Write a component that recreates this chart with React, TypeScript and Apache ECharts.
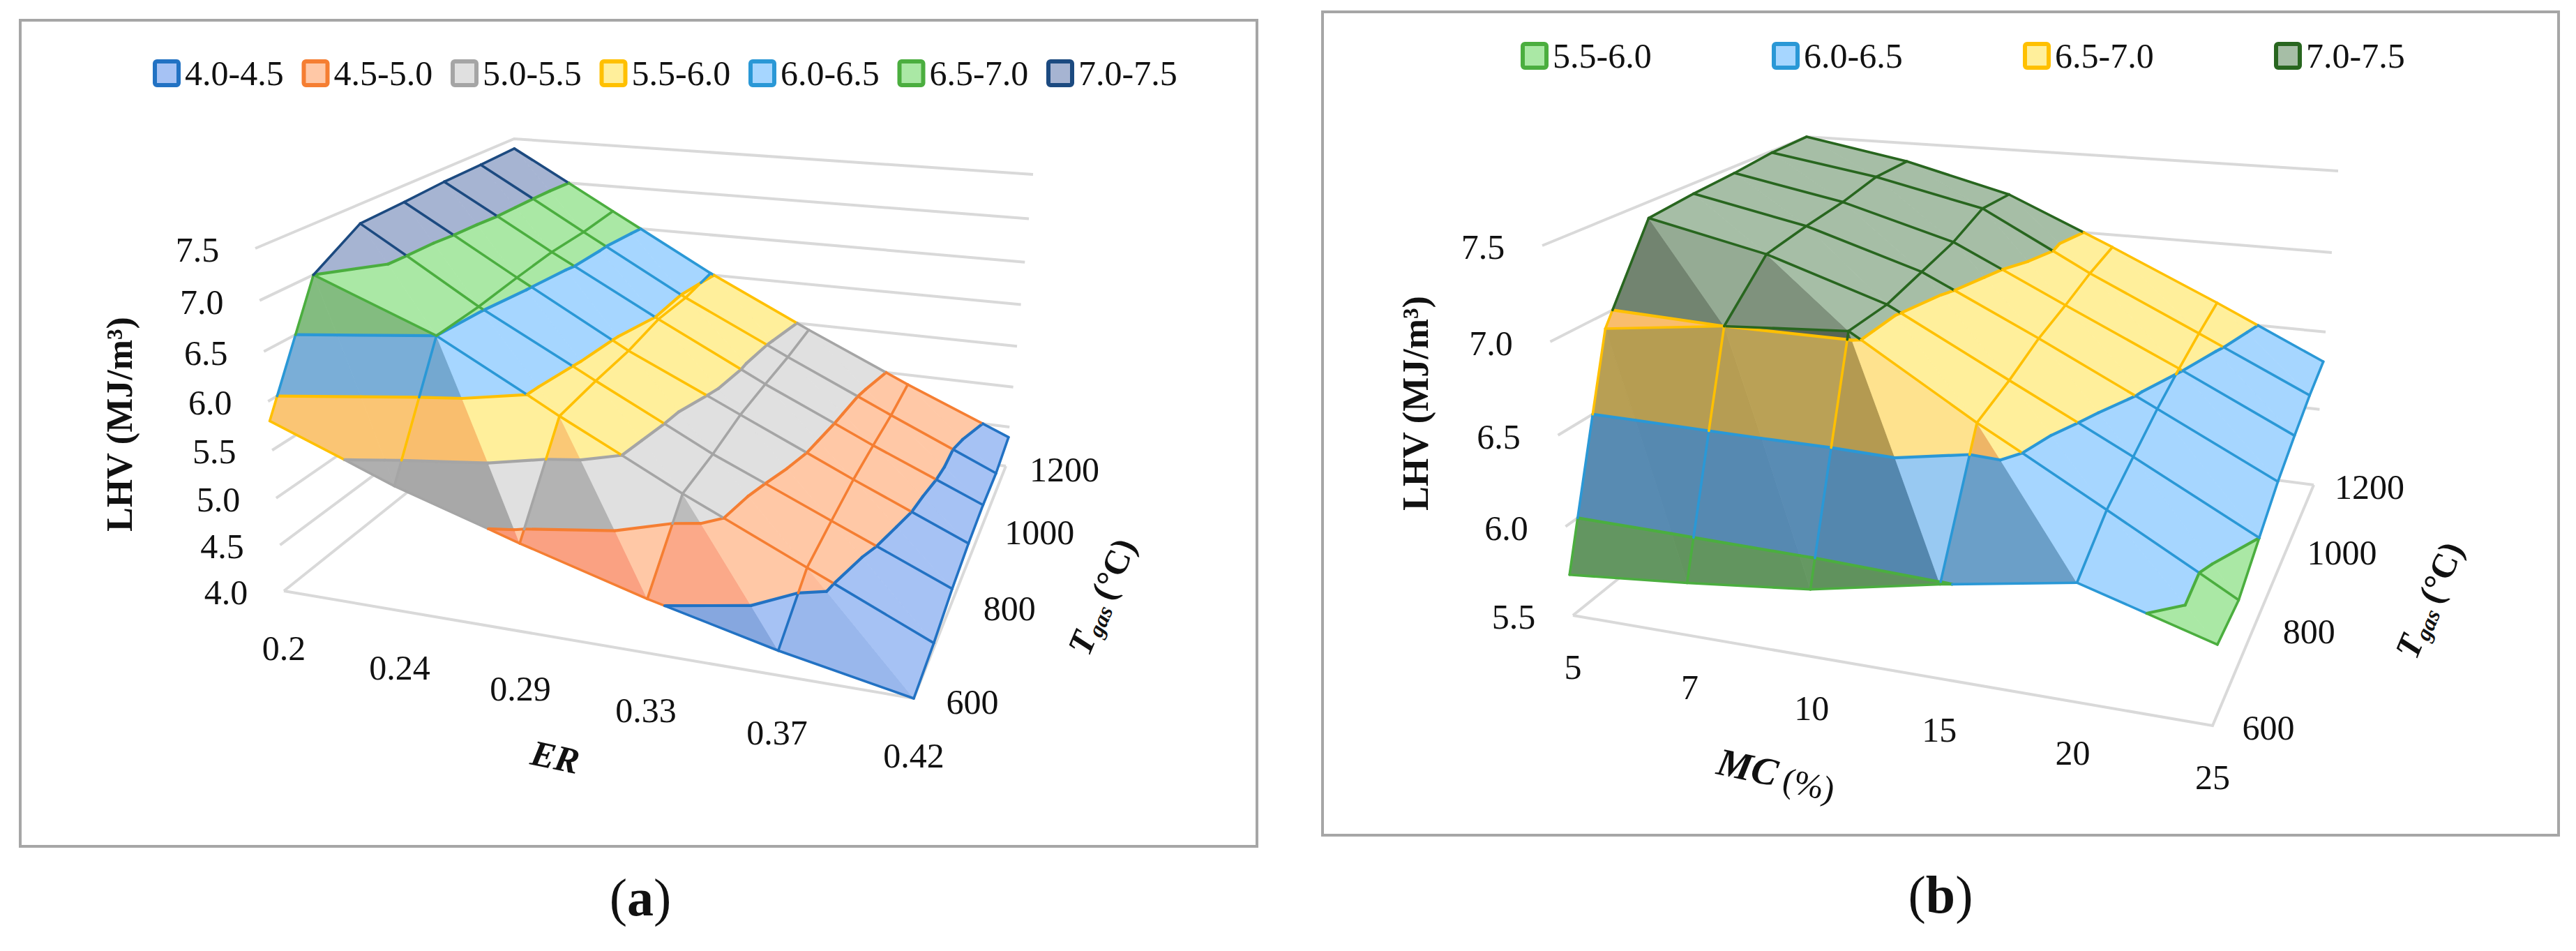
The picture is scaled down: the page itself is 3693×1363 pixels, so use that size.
import React, { useEffect, useRef } from "react";
import * as echarts from "echarts";

const W = 3693;
const H = 1363;
const FONT = '"Liberation Serif", serif';

// ---------- data ----------
const tempValues = [600, 700, 800, 900, 1000, 1100, 1200];
const tempTicks = [600, 800, 1000, 1200];

const erCategories = ["0.2", "0.24", "0.29", "0.33", "0.37", "0.42"];
const lhvTicksA = ["4.0", "4.5", "5.0", "5.5", "6.0", "6.5", "7.0", "7.5"];
const bandLabelsA = ["4.0-4.5", "4.5-5.0", "5.0-5.5", "5.5-6.0", "6.0-6.5", "6.5-7.0", "7.0-7.5"];
const lhvA600 = [5.8, 5.3, 4.9, 4.54, 4.24, 4.0];
const lhvA700 = [7.0, 6.5, 5.82, 5.19, 4.62, 4.06];
const lhvA800 = [7.3, 6.53, 5.87, 5.24, 4.7, 4.17];
const lhvA900 = [7.32, 6.59, 5.9, 5.33, 4.77, 4.24];
const lhvA1000 = [7.35, 6.64, 5.98, 5.36, 4.8, 4.28];
const lhvA1100 = [7.36, 6.65, 5.97, 5.38, 4.82, 4.28];
const lhvA1200 = [7.38, 6.69, 6.02, 5.43, 4.88, 4.37];

const mcCategories = ["5", "7", "10", "15", "20", "25"];
const lhvTicksB = ["5.5", "6.0", "6.5", "7.0", "7.5"];
const bandLabelsB = ["5.5-6.0", "6.0-6.5", "6.5-7.0", "7.0-7.5"];
const lhvB600 = [5.73, 5.79, 5.86, 5.99, 6.1, 5.9];
const lhvB700 = [6.92, 7.0, 7.04, 6.63, 6.26, 5.89];
const lhvB800 = [7.41, 7.26, 7.04, 6.69, 6.35, 6.0];
const lhvB900 = [7.44, 7.3, 7.09, 6.77, 6.44, 6.11];
const lhvB1000 = [7.46, 7.33, 7.14, 6.82, 6.51, 6.19];
const lhvB1100 = [7.49, 7.38, 7.23, 6.88, 6.57, 6.26];
const lhvB1200 = [7.5, 7.38, 7.21, 6.92, 6.62, 6.31];

// ---------- styles ----------
type RGB = number[];
const BLUE4 = { line: "#2272C3", fill: [166, 194, 244], e: [1.2, 0.85, 0.5] };
const ORANGE = { line: "#F57E32", fill: [255, 200, 166], warm: true, e: [0, 0.95, 1.1] };
const GREY = { line: "#A5A5A5", fill: [224, 224, 224], e: [1, 1, 1] };
const YELLOW = { line: "#FFC000", fill: [255, 239, 155], warm: true, e: [0, 0.8, 1.2] };
const SKY = { line: "#2A98D6", fill: [166, 214, 255], e: [1.25, 0.85, 0.7] };
const GREEN = { line: "#4BAE3F", fill: [170, 232, 165], e: [1.05, 0.85, 1.05] };
const NAVY = { line: "#1C4A80", fill: [166, 180, 210], e: [1, 1, 1] };
const DKGREEN = { line: "#28661F", fill: [166, 190, 166], e: [1.3, 1.25, 1.35] };
const stylesA = [BLUE4, ORANGE, GREY, YELLOW, SKY, GREEN, NAVY];
const stylesB = [GREEN, SKY, YELLOW, DKGREEN];

const shade = (st: any, d: number) => {
  let f = 1;
  if (d > -0.05) f = d < 0.1 ? 1 - ((d + 0.05) / 0.15) * 0.14 : Math.max(0.55, 0.86 - (d - 0.1) * 0.22);
  const c: RGB = st.fill;
  let er = st.e[0];
  if (st.warm) er = 0.08 + 0.56 * Math.min(1, Math.max(0, (d - 0.7) / 0.5));
  const r = Math.round(c[0] * Math.pow(f, er));
  const g = Math.round(c[1] * Math.pow(f, st.e[1]));
  const b = Math.round(c[2] * Math.pow(f, st.e[2]));
  return `rgb(${r},${g},${b})`;
};

// ---------- projection ----------
type P = number[];
const homography = (q: P[]) => {
  const [[x0, y0], [x1, y1], [x2, y2], [x3, y3]] = q;
  const dx1 = x1 - x2, dx2 = x3 - x2, sx = x0 - x1 + x2 - x3;
  const dy1 = y1 - y2, dy2 = y3 - y2, sy = y0 - y1 + y2 - y3;
  const den = dx1 * dy2 - dx2 * dy1;
  const g = (sx * dy2 - dx2 * sy) / den;
  const h = (dx1 * sy - sx * dy1) / den;
  const a = x1 - x0 + g * x1, b = x3 - x0 + h * x3;
  const d = y1 - y0 + g * y1, e = y3 - y0 + h * y3;
  return (u: number, v: number): P => {
    const k = g * u + h * v + 1;
    return [(a * u + b * v + x0) / k, (d * u + e * v + y0) / k];
  };
};
const makeProjector = (floor: P[], top: P[], r: number) => {
  const hf = homography(floor);
  const ht = homography(top);
  return (u: number, v: number, w: number): P => {
    const f = hf(u, v);
    const t = ht(u, v);
    const p = (r * w) / (1 - w + r * w);
    return [f[0] + (t[0] - f[0]) * p, f[1] + (t[1] - f[1]) * p];
  };
};

// ---------- geometry built from the data ----------
type Poly = { pts: P[]; fill: string };
type Seg = { pts: P[]; color: string; width: number };
type Txt = { at: P; text: string };

const bandRange = (label: string) => label.split("-").map(parseFloat);

const buildPanel = (cfg: any) => {
  const { rows, bands, styles, proj, ticks } = cfg;
  const ranges = bands.map(bandRange);
  const vmin = ranges[0][0];
  const vmax = ranges[ranges.length - 1][1];
  const nu = rows[0].length - 1;
  const nv = rows.length - 1;
  const wOf = (val: number) => (val - vmin) / (vmax - vmin);
  const pt3 = (p: number[]) => proj(p[0], p[1], wOf(p[2]));

  const fills: Poly[] = [];
  const lines: Seg[] = [];
  const walls: Seg[] = [];
  const wallColor = "#D9D9D9";

  ticks.forEach((t: string) => {
    const w = wOf(parseFloat(t));
    walls.push({ pts: [proj(0, 0, w), proj(0, 1, w), proj(1, 1, w)], color: wallColor, width: 4 });
  });
  walls.push({ pts: [proj(0, 0, 0), proj(1, 0, 0), proj(1, 1, 0)], color: wallColor, width: 4 });

  const clip = (poly: number[][], lim: number, keepAbove: boolean) => {
    const out: number[][] = [];
    const inside = (p: number[]) => (keepAbove ? p[2] >= lim : p[2] <= lim);
    poly.forEach((a, i) => {
      const b = poly[(i + 1) % poly.length];
      const ia = inside(a), ib = inside(b);
      if (ia) out.push(a);
      if (ia !== ib) {
        const t = (lim - a[2]) / (b[2] - a[2]);
        out.push([a[0] + (b[0] - a[0]) * t, a[1] + (b[1] - a[1]) * t, lim]);
      }
    });
    return out;
  };

  const addTriangle = (tri: number[][], d: number) => {
    ranges.forEach((rg: number[], bi: number) => {
      let poly = clip(tri, rg[0], true);
      if (poly.length) poly = clip(poly, rg[1], false);
      if (poly.length >= 3) fills.push({ pts: poly.map(pt3), fill: shade(styles[bi], d) });
    });
  };

  const contour = (tri: number[][]) => {
    ranges.forEach((rg: number[], bi: number) => {
      if (bi === ranges.length - 1) return;
      const L = rg[1] + 1e-6;
      const hits: number[][] = [];
      tri.forEach((a, i) => {
        const b = tri[(i + 1) % 3];
        if ((a[2] - L) * (b[2] - L) < 0) {
          const t = (L - a[2]) / (b[2] - a[2]);
          hits.push([a[0] + (b[0] - a[0]) * t, a[1] + (b[1] - a[1]) * t, L]);
        }
      });
      if (hits.length === 2) lines.push({ pts: hits.map(pt3), color: styles[bi].line, width: 4.2 });
    });
  };

  const edge = (a: number[], b: number[]) => {
    const cuts = [0, 1];
    ranges.forEach((rg: number[]) => {
      const t = (rg[1] - a[2]) / (b[2] - a[2]);
      if (t > 0 && t < 1) cuts.push(t);
    });
    cuts.sort((x, y) => x - y);
    for (let i = 0; i < cuts.length - 1; i++) {
      const lerp = (t: number) => a.map((c, k) => c + (b[k] - c) * t);
      const mid = lerp((cuts[i] + cuts[i + 1]) / 2)[2];
      let bi = ranges.findIndex((rg: number[]) => mid >= rg[0] && mid <= rg[1]);
      if (bi < 0) bi = mid < vmin ? 0 : ranges.length - 1;
      lines.push({ pts: [pt3(lerp(cuts[i])), pt3(lerp(cuts[i + 1]))], color: styles[bi].line, width: 3.6 });
    }
  };

  const vertex = (i: number, j: number) => [i / nu, j / nv, rows[j][i]];

  for (let j = nv - 1; j >= 0; j--) {
    for (let i = 0; i < nu; i++) {
      const A = vertex(i, j), B = vertex(i + 1, j), C = vertex(i + 1, j + 1), D = vertex(i, j + 1);
      const d1 = D[2] - A[2] + 1.5 * (B[2] - A[2]);
      const d2 = C[2] - B[2] + 1.5 * (C[2] - D[2]);
      addTriangle([A, B, D], d1);
      addTriangle([B, C, D], d2);
      contour([A, B, D]);
      contour([B, C, D]);
    }
  }
  for (let j = 0; j <= nv; j++) for (let i = 0; i < nu; i++) edge(vertex(i, j), vertex(i + 1, j));
  for (let i = 0; i <= nu; i++) for (let j = 0; j < nv; j++) edge(vertex(i, j), vertex(i, j + 1));

  const texts: Txt[] = [];
  ticks.forEach((t: string) => {
    const p = proj(0, 0, wOf(parseFloat(t)));
    texts.push({ at: [p[0] + cfg.lhvOffset[0], p[1] + cfg.lhvOffset[1]], text: t });
  });
  cfg.categories.forEach((c: string, i: number) => {
    const p = proj(i / nu, 0, 0);
    texts.push({ at: [p[0] + cfg.catOffset[0], p[1] + cfg.catOffset[1]], text: c });
  });
  tempTicks.forEach((T) => {
    const p = proj(1, (T - tempValues[0]) / (tempValues[nv] - tempValues[0]), 0);
    texts.push({ at: [p[0] + cfg.tempOffset[0], p[1] + cfg.tempOffset[1]], text: String(T) });
  });
  return { fills, lines, walls, texts };
};

const panelA = buildPanel({
  rows: [lhvA600, lhvA700, lhvA800, lhvA900, lhvA1000, lhvA1100, lhvA1200],
  bands: bandLabelsA,
  styles: stylesA,
  ticks: lhvTicksA,
  categories: erCategories,
  proj: makeProjector(
    [[407, 847], [1310, 1001], [1442, 668], [746, 576]],
    [[366, 356], [1352, 438], [1481, 250], [737, 199]],
    0.93
  ),
  lhvOffset: [-83, 2],
  catOffset: [0, 82],
  tempOffset: [84, 5],
});

const panelB = buildPanel({
  rows: [lhvB600, lhvB700, lhvB800, lhvB900, lhvB1000, lhvB1100, lhvB1200],
  bands: bandLabelsB,
  styles: stylesB,
  ticks: lhvTicksB,
  categories: mcCategories,
  proj: makeProjector(
    [[2255, 882], [3172, 1040], [3317, 695], [2602, 602]],
    [[2211, 352], [3208, 435], [3352, 245], [2590, 196]],
    0.95
  ),
  lhvOffset: [-85, 2],
  catOffset: [0, 74],
  tempOffset: [80, 3],
});

const allFills = [...panelA.fills, ...panelB.fills];
const allLines = [...panelA.lines, ...panelB.lines];
const allWalls = [...panelA.walls, ...panelB.walls];
const allTexts = [...panelA.texts, ...panelB.texts];

const deg = (a: number) => (a * Math.PI) / 180;
const txt = (text: string, x: number, y: number, size: number, extra: any = {}) => ({
  type: "text",
  x,
  y,
  silent: true,
  style: {
    text,
    fontFamily: FONT,
    fontSize: size,
    fill: "#111",
    textAlign: "center",
    textVerticalAlign: "middle",
    align: "center",
    verticalAlign: "middle",
    ...extra,
  },
});

const legendItems = (labels: string[], styles: any[], x0: number, dx: number, y: number) =>
  labels.flatMap((label, i) => [
    {
      type: "rect",
      silent: true,
      shape: { x: x0 + i * dx, y: y - 17, width: 34, height: 34, r: 3 },
      style: { fill: `rgb(${styles[i].fill.join(",")})`, stroke: styles[i].line, lineWidth: 6 },
    },
    txt(label, x0 + i * dx + 43, y, 50, { textAlign: "left", align: "left" }),
  ]);

const tgasTitle = (x: number, y: number) => ({
  type: "group",
  x,
  y,
  rotation: deg(67),
  silent: true,
  children: [
    txt("T", -92, 0, 50, { textAlign: "left", align: "left", fontWeight: "bold", fontStyle: "italic" }),
    txt("gas", -60, 12, 32, { textAlign: "left", align: "left", fontWeight: "bold", fontStyle: "italic" }),
    txt("(°C)", -6, 0, 50, { textAlign: "left", align: "left", fontWeight: "bold" }),
  ],
});

const caption = (letter: string, x: number, y: number) => ({
  type: "text",
  x,
  y,
  silent: true,
  style: {
    text: `{n|(}{b|${letter}}{n|)}`,
    align: "center",
    verticalAlign: "middle",
    textAlign: "center",
    textVerticalAlign: "middle",
    rich: {
      n: { fontFamily: FONT, fontSize: 76, fill: "#111" },
      b: { fontFamily: FONT, fontSize: 76, fontWeight: "bold", fill: "#111" },
    },
  },
});

const graphicElements: any[] = [
  { type: "rect", silent: true, shape: { x: 29, y: 29, width: 1773, height: 1184 }, style: { fill: "none", stroke: "#A6A6A6", lineWidth: 4 } },
  { type: "rect", silent: true, shape: { x: 1896, y: 17, width: 1772, height: 1180 }, style: { fill: "none", stroke: "#A6A6A6", lineWidth: 4 } },
  ...legendItems(bandLabelsA, stylesA, 222, 213.5, 105),
  ...legendItems(bandLabelsB, stylesB, 2183, 360, 80),
  { ...txt("LHV (MJ/m³)", 171, 608, 52, { fontWeight: "bold" }), rotation: deg(90) },
  { ...txt("ER", 796, 1085, 52, { fontWeight: "bold", fontStyle: "italic" }), rotation: deg(-12) },
  tgasTitle(1581, 851),
  caption("a", 918, 1286),
  { ...txt("LHV (MJ/m³)", 2029, 578, 52, { fontWeight: "bold" }), rotation: deg(90) },
  {
    type: "group",
    x: 2546,
    y: 1108,
    rotation: deg(-12),
    silent: true,
    children: [
      txt("MC", -85, 0, 56, { textAlign: "left", align: "left", fontWeight: "bold", fontStyle: "italic" }),
      txt("(%)", 12, 6, 50, { textAlign: "left", align: "left" }),
    ],
  },
  tgasTitle(3484, 856),
  caption("b", 2782, 1282),
];

const option: any = {
  animation: false,
  backgroundColor: "#fff",
  grid: { left: 0, top: 0, width: W, height: H, show: false },
  xAxis: { type: "value", min: 0, max: W, show: false },
  yAxis: { type: "value", min: 0, max: H, inverse: true, show: false },
  graphic: { elements: graphicElements },
  series: [
    {
      type: "custom",
      clip: false,
      silent: true,
      z: 1,
      data: allWalls.map((s) => s.pts[0]),
      renderItem: (params: any, api: any) => {
        const s = allWalls[params.dataIndex];
        return {
          type: "polyline",
          shape: { points: s.pts.map((p) => api.coord(p)) },
          style: { fill: "none", stroke: s.color, lineWidth: s.width },
        };
      },
    },
    {
      type: "custom",
      clip: false,
      silent: true,
      z: 2,
      data: allFills.map((s) => s.pts[0]),
      renderItem: (params: any, api: any) => {
        const s = allFills[params.dataIndex];
        return {
          type: "polygon",
          shape: { points: s.pts.map((p) => api.coord(p)) },
          style: { fill: s.fill, stroke: s.fill, lineWidth: 0.8 },
        };
      },
    },
    {
      type: "custom",
      clip: false,
      silent: true,
      z: 3,
      data: allLines.map((s) => s.pts[0]),
      renderItem: (params: any, api: any) => {
        const s = allLines[params.dataIndex];
        return {
          type: "polyline",
          shape: { points: s.pts.map((p) => api.coord(p)) },
          style: { fill: "none", stroke: s.color, lineWidth: s.width, lineCap: "round" },
        };
      },
    },
    {
      type: "custom",
      clip: false,
      silent: true,
      z: 4,
      data: allTexts.map((s) => s.at),
      renderItem: (params: any, api: any) => {
        const s = allTexts[params.dataIndex];
        const c = api.coord(s.at);
        return txt(s.text, c[0], c[1], 50);
      },
    },
  ],
};

export default function App() {
  const ref = useRef<HTMLDivElement>(null);
  useEffect(() => {
    document.body.style.margin = "0";
    const chart = echarts.init(ref.current!, undefined, { renderer: "svg" });
    chart.setOption(option);
    return () => chart.dispose();
  }, []);
  return <div ref={ref} style={{ position: "absolute", left: 0, top: 0, width: W, height: H }} />;
}
